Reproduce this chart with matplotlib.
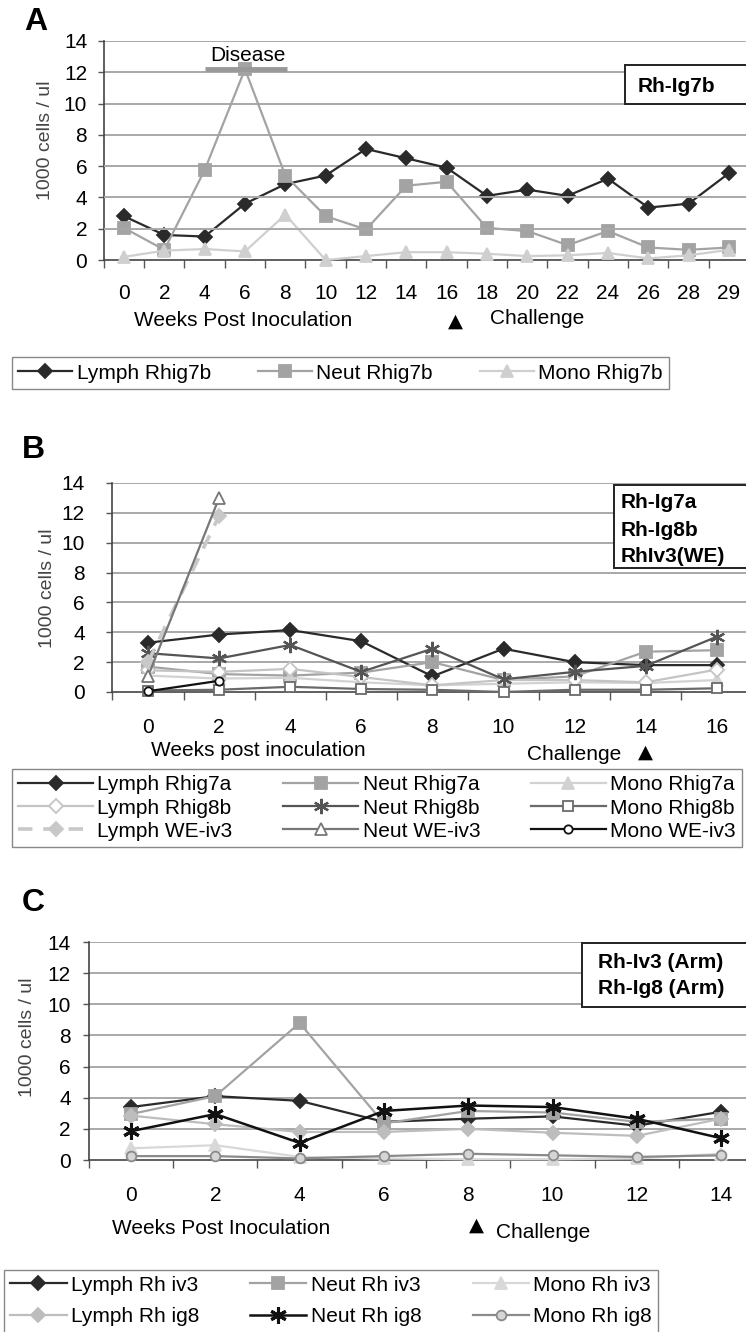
import matplotlib
matplotlib.use('Agg')
import matplotlib.pyplot as plt
from matplotlib.patches import Rectangle
import numpy as np

plt.rcParams['font.family'] = ['Liberation Sans', 'DejaVu Sans']

W, H = 746, 1332  # figure size in pixels (dpi 100)

# ---- panel A: Rh-Ig7b ----
weeks_a = ['0', '2', '4', '6', '8', '10', '12', '14', '16', '18', '20', '22',
           '24', '26', '28', '29']
lymph_a = [2.8, 1.6, 1.5, 3.6, 4.85, 5.4, 7.1, 6.5, 5.9, 4.1, 4.5, 4.1, 5.2, 3.35, 3.6, 5.55]
neut_a = [2.05, 0.65, 5.75, 12.2, 5.4, 2.8, 1.95, 4.75, 5.0, 2.05, 1.85, 0.95, 1.85, 0.8, 0.65, 0.8]
mono_a = [0.2, 0.6, 0.7, 0.55, 2.9, 0.0, 0.25, 0.5, 0.5, 0.4, 0.25, 0.3, 0.45, 0.1, 0.3, 0.65]

# ---- panel B: Rh-Ig7a / Rh-Ig8b / RhIv3(WE) ----
weeks_b = ['0', '2', '4', '6', '8', '10', '12', '14', '16']
lymph_7a = [3.3, 3.85, 4.15, 3.4, 1.05, 2.9, 2.0, 1.8, 1.8]
neut_7a = [1.7, 1.2, 1.1, 1.3, 2.0, 0.8, 1.05, 2.7, 2.8]
mono_7a = [1.1, 0.9, 0.95, 0.65, 0.45, 0.55, 0.65, 0.6, 0.8]
lymph_8b = [1.45, 1.35, 1.55, 1.0, 0.45, 0.8, 0.8, 0.65, 1.5]
neut_8b = [2.6, 2.25, 3.15, 1.35, 2.9, 0.85, 1.35, 1.75, 3.7]
mono_8b = [0.1, 0.15, 0.35, 0.2, 0.15, 0.0, 0.15, 0.15, 0.25]
lymph_we = [2.0, 11.8]
neut_we = [1.05, 13.0]
mono_we = [0.05, 0.75]

# ---- panel C: Rh-Iv3 (Arm) / Rh-Ig8 (Arm) ----
weeks_c = ['0', '2', '4', '6', '8', '10', '12', '14']
lymph_iv3 = [3.4, 4.1, 3.8, 2.45, 2.65, 2.8, 2.2, 3.1]
neut_iv3 = [2.95, 4.1, 8.8, 2.35, 3.15, 3.05, 2.45, 2.65]
mono_iv3 = [0.75, 0.95, 0.2, 0.1, 0.05, 0.05, 0.1, 0.4]
lymph_ig8 = [2.85, 2.3, 1.8, 1.8, 2.0, 1.75, 1.55, 2.65]
neut_ig8 = [1.85, 2.95, 1.1, 3.15, 3.5, 3.4, 2.65, 1.4]
mono_ig8 = [0.25, 0.25, 0.1, 0.25, 0.4, 0.3, 0.2, 0.3]

FS = 15
GRID = '#a8a8a8'
ASTER = (6, 2, 0)


def px_axes(fig, x0, dx, n, top, bottom):
    """axes whose category 0 sits at pixel x0 with spacing dx"""
    left = x0 - dx / 2
    right = left + n * dx
    return fig.add_axes([left / W, 1 - bottom / H, (right - left) / W, (bottom - top) / H])


def style(ax, labels, xpad, ypad):
    n = len(labels)
    ax.set_xlim(-0.5, n - 0.5)
    ax.set_ylim(0, 14)
    ax.set_yticks(range(0, 15, 2))
    ax.set_xticks(np.arange(n + 1) - 0.5)
    ax.set_xticklabels([])
    ax.set_xticks(range(n), minor=True)
    ax.set_xticklabels(labels, minor=True)
    ax.tick_params(axis='x', which='major', length=6, width=1, color='#555')
    ax.tick_params(axis='x', which='minor', length=0, pad=xpad, labelsize=FS)
    ax.tick_params(axis='y', length=4, width=1, color='#555', pad=ypad, labelsize=FS)
    for y in range(2, 15, 2):
        ax.axhline(y, color=GRID, lw=1.4, zorder=0)
    for s in ('top', 'right'):
        ax.spines[s].set_visible(False)
    for s in ('left', 'bottom'):
        ax.spines[s].set_color('#444')
        ax.spines[s].set_linewidth(1.2)


def series(ax, vals, color, marker, ms=7, mfc=None, ls='-', lw=1.6, mew=1.3, label=None):
    ax.plot(range(len(vals)), vals, color=color, lw=lw, ls=ls, marker=marker, ms=ms,
            mfc=mfc if mfc is not None else color, mec=color,
            mew=mew, label=label, clip_on=False, zorder=3)


def fig_text(fig, x, y, s, **kw):
    fig.text(x / W, 1 - y / H, s, **kw)


def label_box(fig, x0, y0, y1, lines, ys, tx):
    fig.add_artist(Rectangle((x0 / W, 1 - y1 / H), (W + 10 - x0) / W, (y1 - y0) / H,
                             transform=fig.transFigure, facecolor='white',
                             edgecolor='#222', lw=1.4, zorder=5))
    for s, y in zip(lines, ys):
        fig_text(fig, tx, y, s, fontsize=FS, fontweight='bold', va='center', ha='left', zorder=6)


def legend(fig, ax, x0, x1, y0, y1, ncol, spacing, hl):
    # matplotlib fills columns first; reorder so entries read across rows
    h, l = ax.get_legend_handles_labels()
    order = [r * ncol + c for c in range(ncol) for r in range(len(h) // ncol)]
    fig.legend([h[i] for i in order], [l[i] for i in order], loc='center', ncol=ncol,
               bbox_to_anchor=(x0 / W, 1 - y1 / H, (x1 - x0) / W, (y1 - y0) / H),
               mode='expand', fontsize=FS, frameon=True, fancybox=False,
               edgecolor='#888', framealpha=1, numpoints=1, handlelength=hl,
               handletextpad=0.2, labelspacing=spacing, borderaxespad=0,
               borderpad=0.3)


fig = plt.figure(figsize=(W / 100, H / 100), dpi=100)

# ---------------- A ----------------
axa = px_axes(fig, 124, 40.33, len(weeks_a), 41, 260)
style(axa, weeks_a, 17, 8)
series(axa, lymph_a, '#2a2a2a', 'D', ms=7, label='Lymph Rhig7b')
series(axa, neut_a, '#a3a3a3', 's', ms=8, label='Neut Rhig7b')
series(axa, mono_a, '#cfcfcf', '^', ms=8.5, label='Mono Rhig7b')
# draw order: lymph on top
for line, z in zip(axa.get_lines(), (5, 4, 3)):
    line.set_zorder(z)
axa.plot([2, 4.05], [12.2, 12.2], color='#999', lw=3.5, solid_capstyle='butt', zorder=4)
axa.text(3.07, 13.1, 'Disease', ha='center', va='center', fontsize=FS)
fig_text(fig, 24, 22, 'A', fontsize=23, fontweight='bold', va='center')
fig_text(fig, 45, 140, '1000 cells / ul', rotation=90, fontsize=14, color='#444',
         va='center', ha='center')
fig_text(fig, 243, 321, 'Weeks Post Inoculation', fontsize=FS, ha='center', va='center')
fig_text(fig, 455, 321, '\u25b2', fontsize=14, ha='center', va='center', family='DejaVu Sans')
fig_text(fig, 490, 318, 'Challenge', fontsize=FS, ha='left', va='center')
label_box(fig, 625, 65, 104, ['Rh-Ig7b'], [86], 638)
legend(fig, axa, 12, 669, 350, 396, 3, 0.2, 2.6)

# ---------------- B ----------------
axb = px_axes(fig, 148, 71.1, len(weeks_b), 483, 692)
style(axb, weeks_b, 19, 16)
series(axb, lymph_7a, '#2a2a2a', 'D', ms=7, label='Lymph Rhig7a')
series(axb, neut_7a, '#a3a3a3', 's', ms=8, label='Neut Rhig7a')
series(axb, mono_7a, '#d2d2d2', '^', ms=8.5, label='Mono Rhig7a')
series(axb, lymph_8b, '#c4c4c4', 'D', ms=7, mfc='white', label='Lymph Rhig8b')
series(axb, neut_8b, '#555555', ASTER, ms=11, mew=1.6, label='Neut Rhig8b')
series(axb, mono_8b, '#6a6a6a', 's', ms=7, mfc='white', label='Mono Rhig8b')
series(axb, lymph_we, '#c8c8c8', 'D', ms=7, ls=(0, (4, 3)), lw=2.6, label='Lymph WE-iv3')
series(axb, neut_we, '#777777', '^', ms=8.5, mfc='white', label='Neut WE-iv3')
series(axb, mono_we, '#111111', 'o', ms=6, mfc='white', label='Mono WE-iv3')
fig_text(fig, 22, 450, 'B', fontsize=23, fontweight='bold', va='center')
fig_text(fig, 48, 588, '1000 cells / ul', rotation=90, fontsize=14, color='#444',
         va='center', ha='center')
fig_text(fig, 258, 750, 'Weeks post inoculation', fontsize=FS, ha='center', va='center')
fig_text(fig, 574, 755, 'Challenge', fontsize=FS, ha='center', va='center')
fig_text(fig, 645, 752, '\u25b2', fontsize=14, ha='center', va='center', family='DejaVu Sans')
label_box(fig, 614, 485, 568, ['Rh-Ig7a', 'Rh-Ig8b', 'RhIv3(WE)'], [503, 530, 557], 621)
legend(fig, axb, 12, 742, 766, 850, 3, 0.2, 3.6)

# ---------------- C ----------------
axc = px_axes(fig, 131, 84.3, len(weeks_c), 942, 1160)
style(axc, weeks_c, 19, 9)
series(axc, lymph_iv3, '#2a2a2a', 'D', ms=7, label='Lymph Rh iv3')
series(axc, neut_iv3, '#a3a3a3', 's', ms=8, label='Neut Rh iv3')
series(axc, mono_iv3, '#d8d8d8', '^', ms=8.5, label='Mono Rh iv3')
series(axc, lymph_ig8, '#bdbdbd', 'D', ms=7, label='Lymph Rh ig8')
series(axc, neut_ig8, '#111111', ASTER, ms=12, mew=2.2, lw=1.8, label='Neut Rh ig8')
series(axc, mono_ig8, '#8a8a8a', 'o', ms=7, mfc='#d5d5d5', label='Mono Rh ig8')
fig_text(fig, 22, 903, 'C', fontsize=23, fontweight='bold', va='center')
fig_text(fig, 27, 1037, '1000 cells / ul', rotation=90, fontsize=14, color='#444',
         va='center', ha='center')
fig_text(fig, 221, 1229, 'Weeks Post Inoculation', fontsize=FS, ha='center', va='center')
fig_text(fig, 476, 1225, '\u25b2', fontsize=14, ha='center', va='center', family='DejaVu Sans')
fig_text(fig, 543, 1232, 'Challenge', fontsize=FS, ha='center', va='center')
label_box(fig, 582, 943, 1007, ['Rh-Iv3 (Arm)', 'Rh-Ig8 (Arm)'], [962, 988], 598)
legend(fig, axc, 4, 658, 1262, 1340, 3, 0.6, 2.7)

fig.savefig('out.png', dpi=100)
